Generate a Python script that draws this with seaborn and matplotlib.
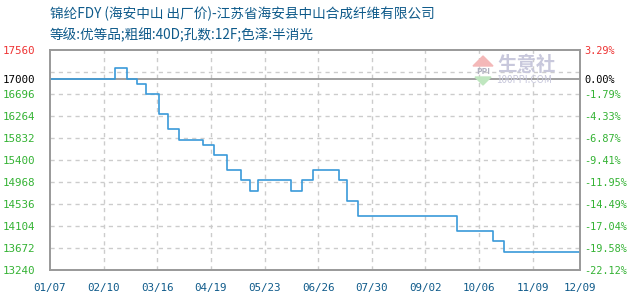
import matplotlib
matplotlib.use("Agg")
import matplotlib.pyplot as plt
import matplotlib.dates as mdates
from matplotlib.patches import Polygon
import pandas as pd
import seaborn as sns

# ---- chart text ----
title_line1 = "锦纶FDY (海安中山 出厂价)-江苏省海安县中山合成纤维有限公司"
title_line2 = "等级:优等品;粗细:40D;孔数:12F;色泽:半消光"

# ---- price series (dates where the quoted price changes) ----
change_dates = ["2013-01-07", "2013-02-17", "2013-02-25", "2013-03-03", "2013-03-09",
                "2013-03-17", "2013-03-23", "2013-03-30", "2013-04-14", "2013-04-21",
                "2013-04-29", "2013-05-08", "2013-05-14", "2013-05-19", "2013-06-09",
                "2013-06-16", "2013-06-23", "2013-07-09", "2013-07-14", "2013-07-21",
                "2013-09-22", "2013-10-15", "2013-10-22", "2013-12-09"]
prices = [17000, 17200, 17000, 16900, 16700,
          16300, 16000, 15800, 15700, 15500,
          15200, 15000, 14800, 15000, 14800,
          15000, 15200, 15000, 14600, 14300,
          14000, 13800, 13600, 13600]

base_price = 17000

# ---- axis labels ----
left_ticks = [17560, 17000, 16696, 16264, 15832, 15400, 14968, 14536, 14104, 13672, 13240]
right_labels = ["3.29%", "0.00%", "-1.79%", "-4.33%", "-6.87%", "-9.41%",
                "-11.95%", "-14.49%", "-17.04%", "-19.58%", "-22.12%"]
grid_levels = [17560, 17128, 16696, 16264, 15832, 15400, 14968, 14536, 14104, 13672, 13240]
x_tick_dates = ["2013-01-07", "2013-02-10", "2013-03-16", "2013-04-19", "2013-05-23",
                "2013-06-26", "2013-07-30", "2013-09-02", "2013-10-06", "2013-11-09",
                "2013-12-09"]
x_tick_labels = ["01/07", "02/10", "03/16", "04/19", "05/23", "06/26",
                 "07/30", "09/02", "10/06", "11/09", "12/09"]

sns.set_style("white")
plt.rcParams["font.family"] = ["Noto Sans CJK SC", "DejaVu Sans"]

GREEN = "#33b233"
RED = "#ee3333"
BLUE_TXT = "#0e5a8a"
GRID = "#cccccc"
FRAME = "#999999"
LINE = "#3a9ad9"

df = pd.DataFrame({"date": pd.to_datetime(change_dates), "price": prices})

fig = plt.figure(figsize=(6.3, 3.0), dpi=100)
ax = fig.add_axes([50 / 630, 30 / 300, 530 / 630, 220 / 300])

# dashed grid
for lv in grid_levels[1:-1]:
    ax.axhline(lv, color=GRID, lw=1, ls=(0, (3, 3)), zorder=1)
xt = pd.to_datetime(x_tick_dates)
for d in xt[1:-1]:
    ax.axvline(d, color=GRID, lw=1, ls=(0, (3, 3)), zorder=1)

# reference price line
ax.axhline(base_price, color=FRAME, lw=1.3, zorder=2)

sns.lineplot(data=df, x="date", y="price", ax=ax, color=LINE, lw=1.2,
             drawstyle="steps-post", zorder=3)

ax.set_xlim(xt[0], xt[-1])
ax.set_ylim(13240, 17560)
ax.set_xlabel("")
ax.set_ylabel("")

# left price labels
ax.set_yticks(left_ticks)
ax.set_yticklabels([str(v) for v in left_ticks], family="DejaVu Sans Mono", fontsize=7.8)
ax.tick_params(axis="y", length=0, pad=11)
for lbl, v in zip(ax.get_yticklabels(), left_ticks):
    lbl.set_color(RED if v > base_price else ("black" if v == base_price else GREEN))

# x date labels
ax.set_xticks(xt)
ax.set_xticklabels(x_tick_labels, family="DejaVu Sans Mono", fontsize=7.8, color=BLUE_TXT)
ax.tick_params(axis="x", length=0, pad=9)

# right percentage labels
ax2 = ax.twinx()
ax2.set_ylim(13240, 17560)
ax2.set_yticks(left_ticks)
ax2.set_yticklabels(right_labels, family="DejaVu Sans Mono", fontsize=7.4)
ax2.tick_params(axis="y", length=0, pad=3)
for lbl, v in zip(ax2.get_yticklabels(), left_ticks):
    lbl.set_color(RED if v > base_price else ("black" if v == base_price else GREEN))

for a in (ax, ax2):
    for s in a.spines.values():
        s.set_color(FRAME)
        s.set_linewidth(1.2)

# titles
fig.text(50 / 630, 1 - 14 / 300, title_line1, color=BLUE_TXT, fontsize=9.8, va="center", ha="left")
fig.text(50 / 630, 1 - 35 / 300, title_line2, color=BLUE_TXT, fontsize=9.8, va="center", ha="left")

# watermark logo
roof = Polygon([(473 / 630, 1 - 66 / 300), (483 / 630, 1 - 56 / 300), (493 / 630, 1 - 66 / 300)],
               closed=True, transform=fig.transFigure, color="#f4b8b8", zorder=0)
base = Polygon([(475 / 630, 1 - 77 / 300), (491 / 630, 1 - 77 / 300), (483 / 630, 1 - 85 / 300)],
               closed=True, transform=fig.transFigure, color="#bfe6bf", zorder=0)
fig.patches.extend([roof, base])
fig.text(483 / 630, 1 - 71.5 / 300, "PPI", color="#b0b0c0", fontsize=6, ha="center", va="center",
         fontweight="bold")
fig.text(497 / 630, 1 - 65 / 300, "生意社", color="#c8c8dc", fontsize=14, ha="left", va="center",
         fontweight="bold")
fig.text(496 / 630, 1 - 80 / 300, "100PPI.COM", color="#c8c8dc", fontsize=7, ha="left", va="center")

fig.savefig("out.png", dpi=100)
